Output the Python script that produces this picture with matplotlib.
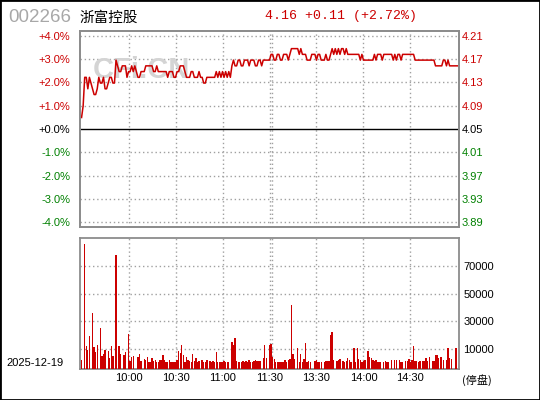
import numpy as np
import matplotlib
matplotlib.use("Agg")
import matplotlib.pyplot as plt
from matplotlib.patches import Rectangle

plt.rcParams['font.family'] = ['Liberation Sans', 'Noto Sans CJK SC', 'DejaVu Sans']

# 行情数据（每分钟）
code = "002266"
name = "浙富控股"
date_label = "2025-12-19"
prev_close = 4.05
quote_text = "4.16 +0.11 (+2.72%)"

price = [
    4.07, 4.09, 4.14, 4.14, 4.12, 4.14, 4.13, 4.12, 4.11, 4.11,
    4.12, 4.14, 4.13, 4.13, 4.14, 4.12, 4.12, 4.13, 4.14, 4.14,
    4.13, 4.13, 4.17, 4.16, 4.15, 4.15, 4.16, 4.16, 4.16, 4.14,
    4.15, 4.15, 4.16, 4.15, 4.16, 4.15, 4.14, 4.14, 4.15, 4.15,
    4.15, 4.16, 4.16, 4.16, 4.16, 4.16, 4.15, 4.15, 4.16, 4.15,
    4.15, 4.15, 4.15, 4.15, 4.15, 4.14, 4.15, 4.15, 4.15, 4.14,
    4.14, 4.15, 4.15, 4.16, 4.16, 4.16, 4.15, 4.14, 4.14, 4.14,
    4.15, 4.15, 4.14, 4.14, 4.14, 4.15, 4.14, 4.14, 4.13, 4.13,
    4.14, 4.14, 4.14, 4.14, 4.14, 4.14, 4.15, 4.14, 4.15, 4.14,
    4.15, 4.14, 4.15, 4.14, 4.15, 4.14, 4.16, 4.17, 4.16, 4.16,
    4.17, 4.17, 4.16, 4.16, 4.17, 4.17, 4.17, 4.16, 4.17, 4.17,
    4.17, 4.16, 4.16, 4.17, 4.17, 4.16, 4.17, 4.17, 4.17, 4.17,
    4.17, 4.18, 4.18, 4.17, 4.17, 4.18, 4.18, 4.17, 4.17, 4.18,
    4.18, 4.18, 4.17, 4.18, 4.19, 4.19, 4.19, 4.19, 4.19, 4.18,
    4.19, 4.18, 4.18, 4.18, 4.17, 4.17, 4.17, 4.18, 4.18, 4.18,
    4.17, 4.18, 4.18, 4.17, 4.17, 4.17, 4.18, 4.17, 4.17, 4.18,
    4.19, 4.18, 4.19, 4.18, 4.19, 4.18, 4.19, 4.19, 4.18, 4.19,
    4.18, 4.18, 4.18, 4.18, 4.18, 4.18, 4.18, 4.18, 4.17, 4.18,
    4.17, 4.17, 4.17, 4.17, 4.17, 4.17, 4.17, 4.18, 4.17, 4.18,
    4.18, 4.18, 4.17, 4.18, 4.18, 4.18, 4.18, 4.18, 4.18, 4.17,
    4.18, 4.17, 4.18, 4.18, 4.17, 4.18, 4.18, 4.18, 4.18, 4.18,
    4.18, 4.18, 4.18, 4.17, 4.17, 4.17, 4.17, 4.17, 4.17, 4.17,
    4.17, 4.17, 4.17, 4.17, 4.17, 4.17, 4.16, 4.16, 4.16, 4.16,
    4.16, 4.17, 4.17, 4.16, 4.17, 4.16, 4.16, 4.16, 4.16, 4.16, 4.16,
]

volume = [
    2300, 0, 85900, 12400, 9500, 19600, 0, 36000, 11700, 8000,
    13100, 0, 25400, 5200, 6400, 9500, 0, 8800, 3700, 12400,
    5200, 0, 78200, 0, 12400, 6400, 0, 5700, 8000, 0,
    21100, 1600, 4500, 5200, 0, 0, 4500, 6400, 1600, 0,
    2800, 2300, 4500, 800, 800, 3700, 1600, 2300, 800, 800,
    2300, 2300, 5900, 2300, 800, 800, 2300, 800, 800, 800,
    800, 2300, 8800, 7300, 13100, 5900, 300, 4500, 2300, 1600,
    300, 6600, 1600, 3700, 800, 1600, 0, 2300, 800, 300,
    2300, 0, 1600, 800, 1600, 300, 8000, 800, 300, 800,
    300, 1600, 300, 800, 800, 0, 15300, 13100, 18200, 1600,
    800, 800, 800, 1600, 800, 1600, 800, 2300, 800, 800,
    1600, 2300, 1600, 1600, 1600, 0, 3700, 13100, 3700, 0,
    13100, 13900, 4500, 3000, 800, 800, 800, 800, 800, 800,
    2300, 800, 2300, 3000, 42000, 6600, 3000, 0, 11000, 800,
    6600, 800, 3000, 14600, 800, 1600, 800, 0, 0, 1600,
    2300, 800, 300, 800, 0, 800, 1600, 1600, 1600, 20400,
    22500, 2300, 0, 1600, 2300, 3000, 0, 1600, 800, 1600,
    3700, 2300, 800, 0, 11000, 800, 11000, 3000, 2300, 800,
    1600, 2300, 0, 8800, 4500, 3700, 2300, 1600, 2300, 800,
    800, 300, 0, 800, 1600, 800, 800, 0, 2300, 0,
    2300, 2300, 0, 2300, 800, 800, 0, 1600, 1600, 3000,
    800, 2300, 12400, 1600, 1600, 800, 1600, 0, 1600, 1600,
    3700, 1600, 4500, 0, 1600, 1600, 5900, 5900, 3700, 4500,
    4500, 2300, 0, 2300, 11000, 3700, 3000, 0, 0, 11000, 0,
]

time_ticks = [30, 60, 90, 120, 150, 180, 210]
time_labels = ["10:00", "10:30", "11:00", "11:30", "13:30", "14:00", "14:30"]
pct_ticks = [4, 3, 2, 1, 0, -1, -2, -3, -4]
vol_ticks = [10000, 30000, 50000, 70000]

RED = "#cc0000"
GREEN = "#008000"
GRID = "#a0a0a0"
FRAME = "#8c8c8c"

W, H = 540, 400
fig = plt.figure(figsize=(5.4, 4), dpi=100)
fig.patch.set_facecolor("white")


def px_box(left, top, right, bottom):
    return [left / W, 1 - bottom / H, (right - left) / W, (bottom - top) / H]


ax = fig.add_axes(px_box(80, 31, 459, 227))
axv = fig.add_axes(px_box(80, 238, 459, 369))

minutes = np.arange(len(price))
pct = (np.array(price) - prev_close) / prev_close * 100

# 分时价格
ax.set_xlim(-1, 241)
ax.set_ylim(-4.215, 4.215)
for k in pct_ticks:
    if k == 0:
        ax.axhline(0, color="black", lw=1.0, zorder=2)
    else:
        ax.axhline(k, color=GRID, lw=1.0, ls=(0, (1, 2)), zorder=1)
for t in time_ticks:
    ax.axvline(t, color=GRID, lw=1.0, ls=(0, (1, 2)), zorder=1)
ax.axvline(121.8, color=GRID, lw=1.0, ls=(0, (1, 2)), zorder=1)

ax.text(0.034, 0.76, "CFi.CN", transform=ax.transAxes, fontsize=21,
        fontweight="bold", color="#d4d4d4", zorder=1, va="baseline")
ax.plot(minutes, pct, color=RED, lw=1.1, zorder=3)

ax.set_xticks([])
ax.set_yticks(pct_ticks)
ax.set_yticklabels(["%+.1f%%" % k if k != 0 else "+0.0%" for k in pct_ticks],
                   fontsize=8)
for lab, k in zip(ax.get_yticklabels(), pct_ticks):
    lab.set_color(RED if k > 0 else (GREEN if k < 0 else "black"))
ax.tick_params(axis="y", length=0, pad=7)

axr = ax.twinx()
axr.set_ylim(ax.get_ylim())
axr.set_yticks(pct_ticks)
axr.set_yticklabels(["%.2f" % (prev_close * (1 + k / 100)) for k in pct_ticks],
                    fontsize=8)
for lab, k in zip(axr.get_yticklabels(), pct_ticks):
    lab.set_color(RED if k > 0 else (GREEN if k < 0 else "black"))
axr.tick_params(axis="y", length=0, pad=2)

for a in (ax, axr, axv):
    for s in a.spines.values():
        s.set_color(FRAME)
        s.set_linewidth(1.3)

# 成交量
vmin = -4500
axv.set_xlim(-1, 241)
axv.set_ylim(vmin, 90500)
for v in vol_ticks:
    axv.axhline(v, color=GRID, lw=1.0, ls=(0, (1, 2)), zorder=1)
for t in time_ticks:
    axv.axvline(t, color=GRID, lw=1.0, ls=(0, (1, 2)), zorder=1)
axv.axvline(121.8, color=GRID, lw=1.0, ls=(0, (1, 2)), zorder=1)

vol = np.array(volume, dtype=float)
has = vol > 0
axv.bar(minutes[has], vol[has] - vmin, bottom=vmin, width=0.85,
        color=RED, linewidth=0, antialiased=False, zorder=3)

axv.yaxis.tick_right()
axv.set_yticks(vol_ticks)
axv.set_yticklabels([str(v) for v in vol_ticks], fontsize=8)
axv.tick_params(axis="y", length=0, pad=3)
axv.set_xticks(time_ticks)
axv.set_xticklabels(time_labels, fontsize=8)
axv.tick_params(axis="x", length=0, pad=3)

# 标题文字
fig.text(8 / W, 1 - 18 / H, code, fontsize=13.5, color="#a8a8a8",
         va="center", ha="left")
fig.text(79 / W, 1 - 18 / H, name, fontsize=10.5, color="black",
         va="center", ha="left", family=["Noto Sans CJK SC", "DejaVu Sans"])
fig.text(265 / W, 1 - 16 / H, quote_text, fontsize=9.5, color=RED,
         va="center", ha="left", family="Liberation Mono")
fig.text(6 / W, 1 - 363 / H, date_label, fontsize=8, color="black",
         va="center", ha="left")
fig.text(462 / W, 1 - 380 / H, "(停盘)", fontsize=8, color="black",
         va="center", ha="left", family=["Noto Sans CJK SC", "DejaVu Sans"])

fig.add_artist(Rectangle((0, 0), 1, 1, transform=fig.transFigure,
                         fill=False, edgecolor="black", lw=2))

fig.savefig("out.png", dpi=100)
